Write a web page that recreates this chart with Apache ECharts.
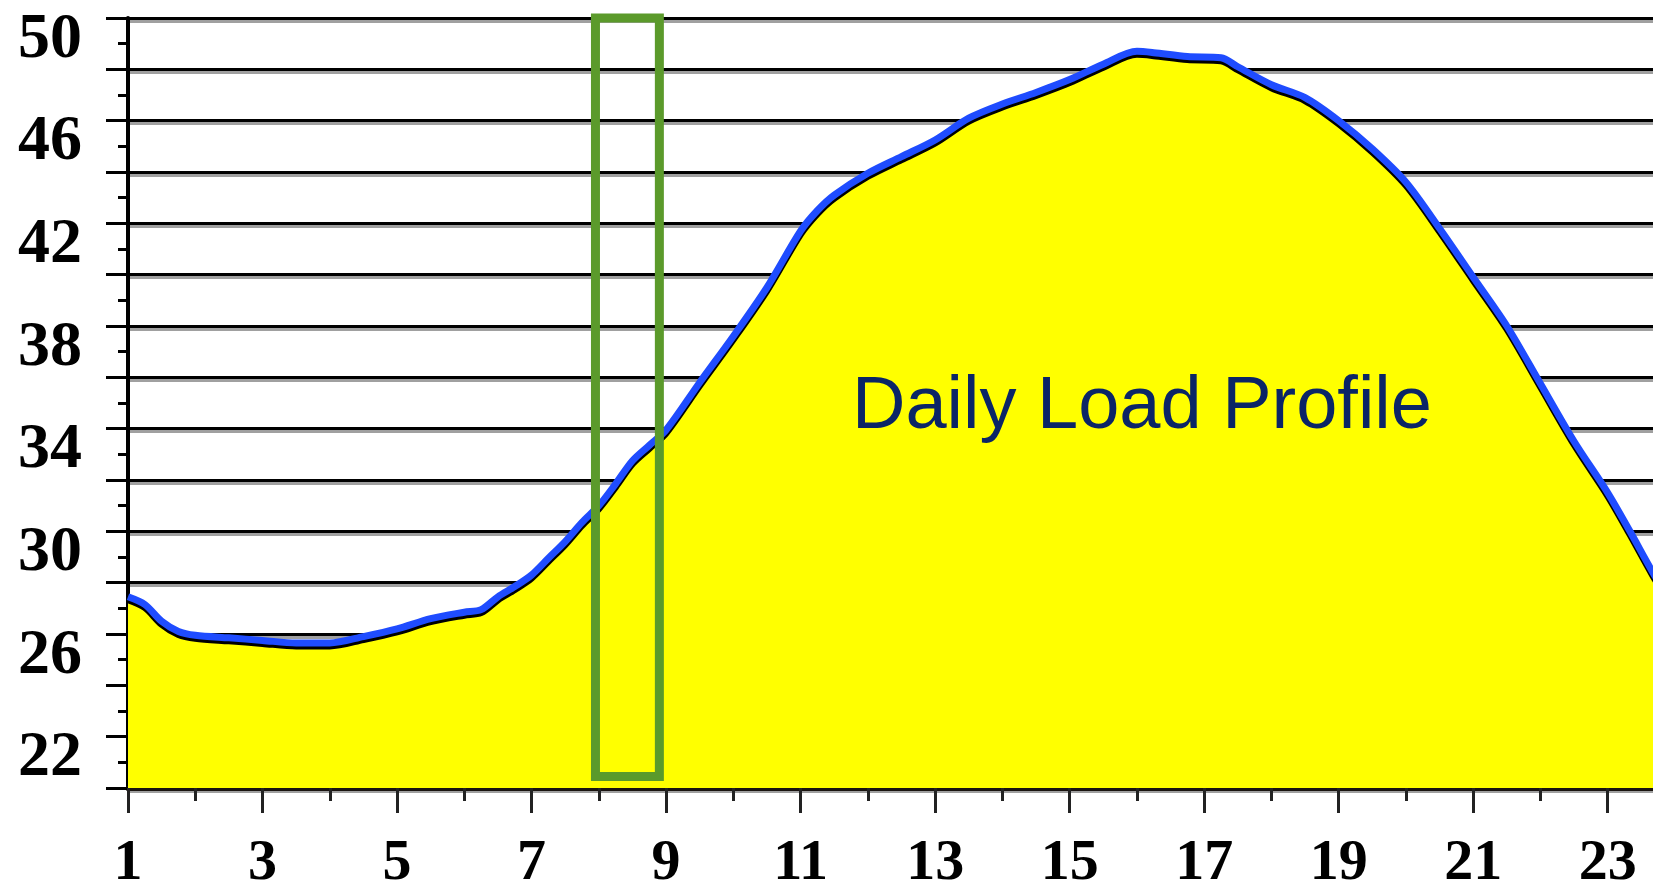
<!DOCTYPE html>
<html>
<head>
<meta charset="utf-8">
<script src="https://cdn.jsdelivr.net/npm/echarts@6/dist/echarts.min.js"></script>
<style>
  html, body { margin: 0; padding: 0; background: #fff; }
  #chart { width: 1653px; height: 885px; }
</style>
</head>
<body>
<div id="chart"></div>
<script>
// hour of day and load
var hours = [1, 1.25, 1.5, 1.75, 2, 2.5, 3, 3.5, 4, 4.5, 5, 5.5, 6, 6.25, 6.5, 6.75,
  7, 7.25, 7.5, 7.75, 8, 8.25, 8.5, 8.75, 9, 9.5, 10, 10.5, 11, 11.25, 11.5, 12,
  12.5, 13, 13.5, 14, 14.5, 15, 15.5, 16, 16.25, 16.75, 17.25, 17.5, 18, 18.5,
  19, 19.5, 20, 20.5, 21, 21.5, 22, 22.5, 23, 23.33, 23.67, 24];
var load = [27.45, 27.15, 26.5, 26.1, 25.95, 25.85, 25.75, 25.65, 25.65, 25.9, 26.2, 26.6, 26.85, 26.95, 27.45, 27.85,
  28.3, 28.95, 29.6, 30.35, 31.0, 31.85, 32.75, 33.35, 33.95, 35.8, 37.6, 39.5, 41.7, 42.5, 43.1, 43.95,
  44.6, 45.25, 46.1, 46.65, 47.1, 47.6, 48.2, 48.7, 48.65, 48.5, 48.45, 48.1, 47.4, 46.9,
  46.0, 44.9, 43.6, 41.8, 39.9, 38.0, 35.75, 33.5, 31.5, 30.0, 28.4, 27.0];

var xLabels = [1, 3, 5, 7, 9, 11, 13, 15, 17, 19, 21, 23];
var yLabels = [22, 26, 30, 34, 38, 42, 46, 50];
var boxHours = [7.95, 8.9];
var boxLoad = [20.45, 50.05];
var chartTitle = 'Daily Load Profile';

var chart = echarts.init(document.getElementById('chart'));

var points = hours.map(function (h, i) { return [h, load[i]]; });

var labelFont = {
  fontFamily: 'Liberation Serif',
  fontWeight: 'bold',
  color: '#000'
};

var option = {
  backgroundColor: '#fff',
  animation: false,
  title: {
    text: chartTitle,
    left: 852,
    top: 371,
    padding: 0,
    textStyle: {
      fontFamily: 'Liberation Sans',
      fontWeight: 'normal',
      fontSize: 74,
      color: '#0b2566'
    }
  },
  grid: { left: 128, right: -22, top: 18, bottom: 97, outerBoundsMode: 'none', containLabel: false },
  xAxis: [
    {
      // every hour: short ticks, carries the data
      type: 'value',
      min: 1,
      max: 24,
      interval: 1,
      axisLine: { show: true, onZero: false, lineStyle: { color: '#1a1410', width: 5 } },
      axisTick: { show: true, length: 13, lineStyle: { color: '#222', width: 3 } },
      axisLabel: { show: false },
      splitLine: { show: false }
    },
    {
      // odd hours: long ticks and labels
      type: 'value',
      position: 'bottom',
      min: 1,
      max: 24,
      interval: 1,
      axisLine: { show: false, onZero: false },
      axisTick: { show: true, length: 25, customValues: xLabels, lineStyle: { color: '#222', width: 3 } },
      axisLabel: Object.assign({ customValues: xLabels, fontSize: 58, margin: 47 }, labelFont),
      splitLine: { show: false }
    }
  ],
  yAxis: {
    type: 'value',
    min: 20,
    max: 50,
    interval: 2,
    axisLine: { show: true, lineStyle: { color: '#000', width: 4 } },
    axisTick: { show: true, length: 22, lineStyle: { color: '#000', width: 3 } },
    minorTick: { show: true, splitNumber: 2, length: 10, lineStyle: { color: '#000', width: 3 } },
    axisLabel: Object.assign({
      customValues: yLabels, fontSize: 64, margin: 46, verticalAlign: 'top', lineHeight: 44
    }, labelFont),
    splitLine: {
      show: true,
      lineStyle: { color: '#000', width: 3, shadowColor: '#a0a0a0', shadowOffsetY: 3, shadowBlur: 0 }
    }
  },
  series: [
    {
      type: 'line',
      xAxisIndex: 0,
      data: points,
      smooth: 0.3,
      symbol: 'none',
      lineStyle: {
        color: '#1f4cff',
        width: 7,
        shadowColor: '#000',
        shadowOffsetY: 3,
        shadowOffsetX: 0,
        shadowBlur: 0
      },
      areaStyle: { color: '#ffff00', opacity: 1 },
      z: 2
    },
    {
      type: 'line',
      xAxisIndex: 0,
      data: [],
      z: 10,
      markArea: {
        silent: true,
        z: 10,
        itemStyle: { color: 'rgba(0,0,0,0)', borderColor: '#5b9a2b', borderWidth: 9 },
        data: [[
          { coord: [boxHours[0], boxLoad[1]] },
          { coord: [boxHours[1], boxLoad[0]] }
        ]]
      }
    }
  ]
};

chart.setOption(option);
</script>
</body>
</html>
